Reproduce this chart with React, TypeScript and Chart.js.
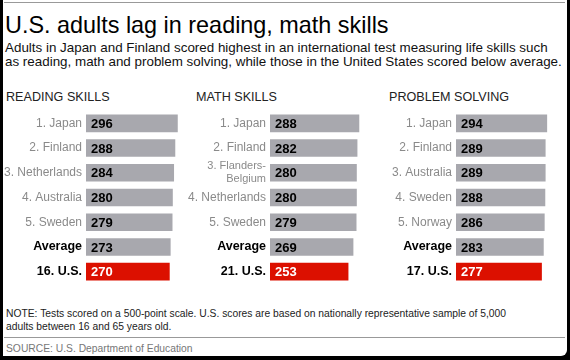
import React, { useEffect, useRef } from "react";
import { Chart, registerables } from "chart.js";

Chart.register(...registerables);

const readingLabels: (string | string[])[] = ["1. Japan", "2. Finland", "3. Netherlands", "4. Australia", "5. Sweden", "Average", "16. U.S."];
const readingValues = [296, 288, 284, 280, 279, 273, 270];

const mathLabels: (string | string[])[] = ["1. Japan", "2. Finland", ["3. Flanders-", "Belgium"], "4. Netherlands", "5. Sweden", "Average", "21. U.S."];
const mathValues = [288, 282, 280, 280, 279, 269, 253];

const problemLabels: (string | string[])[] = ["1. Japan", "2. Finland", "3. Australia", "4. Sweden", "5. Norway", "Average", "17. U.S."];
const problemValues = [294, 289, 289, 288, 286, 283, 277];

const FONT = "'Liberation Sans', Arial, Helvetica, sans-serif";
const GRAY = "#a8a8ae";
const RED = "#dc1000";

const valuePlugin = {
  id: "valueLabels",
  afterDatasetsDraw(chart: any) {
    const ctx = chart.ctx;
    const meta = chart.getDatasetMeta(0);
    const data = chart.data.datasets[0].data as number[];
    const n = data.length;
    ctx.save();
    ctx.font = `bold 13px ${FONT}`;
    ctx.textBaseline = "middle";
    ctx.textAlign = "left";
    meta.data.forEach((el: any, i: number) => {
      ctx.fillStyle = i === n - 1 ? "#ffffff" : "#000000";
      ctx.fillText(String(data[i]), el.base + 5, el.y + 1);
    });
    ctx.restore();
  },
};

function Panel({ labels, values, left, axisWidth, width }: { labels: (string | string[])[]; values: number[]; left: number; axisWidth: number; width: number }) {
  const ref = useRef<HTMLCanvasElement>(null);
  useEffect(() => {
    if (!ref.current) return;
    const n = values.length;
    const chart = new Chart(ref.current, {
      type: "bar",
      data: {
        labels,
        datasets: [
          {
            data: values,
            backgroundColor: values.map((_, i) => (i === n - 1 ? RED : GRAY)),
            barPercentage: 0.71,
            categoryPercentage: 1,
          },
        ],
      },
      options: {
        indexAxis: "y",
        responsive: false,
        animation: false,
        layout: { padding: 0 },
        plugins: { legend: { display: false }, tooltip: { enabled: false } },
        scales: {
          x: { display: false, min: 0, max: 300 },
          y: {
            grid: { display: false, drawTicks: false, tickLength: 0 },
            border: { display: false },
            afterFit: (scale: any) => {
              scale.width = axisWidth;
              scale.paddingTop = 0;
              scale.paddingBottom = 0;
            },
            ticks: {
              padding: 4,
              autoSkip: false,
              color: (c: any) => (c.index >= n - 2 ? "#000000" : "#8a8a8a"),
              font: (c: any) => {
                if (c.index >= n - 2) return { family: FONT, size: 12.5, weight: "bold" };
                if (Array.isArray(labels[c.index])) return { family: FONT, size: 11, lineHeight: 1.15 };
                return { family: FONT, size: 12 };
              },
            },
          },
        },
      },
      plugins: [valuePlugin],
    });
    return () => chart.destroy();
  }, []);
  return (
    <canvas
      ref={ref}
      width={width}
      height={173}
      style={{ position: "absolute", left, top: 111, width, height: 173 }}
    />
  );
}

export default function App() {
  const text = (extra: React.CSSProperties): React.CSSProperties => ({
    position: "absolute",
    fontFamily: FONT,
    whiteSpace: "nowrap",
    ...extra,
  });
  return (
    <div style={{ position: "fixed", left: 0, top: 0, width: 570, height: 360, background: "#000", overflow: "hidden" }}>
      <div style={{ position: "absolute", left: 3, top: 0, width: 564, height: 356, background: "#fff", borderBottomRightRadius: 6 }} />
      <div style={{ position: "absolute", left: 4, top: 2, width: 561, height: 1, background: "#999" }} />
      <div style={text({ left: 5, top: 13, fontSize: 23.4, lineHeight: "24px", color: "#000" })}>
        U.S. adults lag in reading, math skills
      </div>
      <div style={text({ left: 5, top: 40.7, fontSize: 13.4, lineHeight: "14.5px", color: "#111" })}>
        Adults in Japan and Finland scored highest in an international test measuring life skills such
        <br />
        as reading, math and problem solving, while those in the United States scored below average.
      </div>
      <div style={text({ left: 6, top: 91, fontSize: 12.6, lineHeight: "13px", color: "#222" })}>READING SKILLS</div>
      <div style={text({ left: 196, top: 91, fontSize: 12.6, lineHeight: "13px", color: "#222" })}>MATH SKILLS</div>
      <div style={text({ left: 389, top: 91, fontSize: 12.6, lineHeight: "13px", color: "#222" })}>PROBLEM SOLVING</div>

      <Panel labels={readingLabels} values={readingValues} left={0} axisWidth={86} width={179} />
      <Panel labels={mathLabels} values={mathValues} left={180} axisWidth={90} width={183} />
      <Panel labels={problemLabels} values={problemValues} left={370} axisWidth={86} width={179} />

      <div style={text({ left: 6, top: 307, fontSize: 10.3, lineHeight: "13px", color: "#222" })}>
        NOTE: Tests scored on a 500-point scale. U.S. scores are based on nationally representative sample of 5,000
        <br />
        adults between 16 and 65 years old.
      </div>
      <div style={{ position: "absolute", left: 4, top: 337, width: 561, height: 1, background: "#999" }} />
      <div style={text({ left: 6, top: 341.5, fontSize: 10.3, lineHeight: "13px", color: "#777" })}>
        SOURCE: U.S. Department of Education
      </div>
    </div>
  );
}
